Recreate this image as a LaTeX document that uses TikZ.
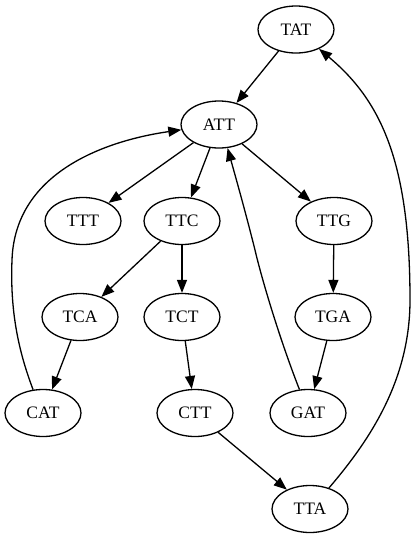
\documentclass[tikz,border=0pt]{standalone}
\usepackage{fontspec}
\setmainfont{Liberation Serif}
\usetikzlibrary{shapes.geometric,arrows.meta}
\begin{document}
\begin{tikzpicture}[x=1pt,y=-1pt,
  gnode/.style={ellipse,draw,line width=1.3pt,inner sep=0pt,minimum width=76pt,minimum height=47pt,font=\fontsize{17.5}{20}\selectfont},
  edge/.style={line width=1.3pt,-{Triangle[length=13pt,width=10pt]}}]
\useasboundingbox (0,0) rectangle (416,539);
\node[gnode] (TAT) at (296,29.5) {TAT};
\node[gnode] (ATT) at (219,124.5) {ATT};
\node[gnode] (TTT) at (83,221) {TTT};
\node[gnode] (TTC) at (182,221) {TTC};
\node[gnode] (TTG) at (334,221) {TTG};
\node[gnode] (TCA) at (80,317) {TCA};
\node[gnode] (TCT) at (182,317) {TCT};
\node[gnode] (TGA) at (333,317) {TGA};
\node[gnode] (CAT) at (43,413) {CAT};
\node[gnode] (CTT) at (195,413) {CTT};
\node[gnode] (GAT) at (308,413) {GAT};
\node[gnode] (TTA) at (310,509) {TTA};
\draw[edge] (TAT) -- (ATT);
\draw[edge] (ATT) -- (TTT);
\draw[edge] (ATT) -- (TTC);
\draw[edge] (ATT) -- (TTG);
\draw[edge] (TTC) -- (TCA);
\draw[edge] (TTC) -- (TCT);
\draw[edge] (TTG) -- (TGA);
\draw[edge] (TCA) -- (CAT);
\draw[edge] (TCT) -- (CTT);
\draw[edge] (TGA) -- (GAT);
\draw[edge] (CTT) -- (TTA);
\draw[edge] (CAT.113) .. controls (18,350) and (10,310) .. (12,260) .. controls (15,170) and (110,140) .. (ATT.188);
\draw[edge] (GAT.110) .. controls (280,340) and (262,280) .. (255,250) .. controls (245,210) and (235,175) .. (ATT.290);
\draw[edge] (TTA.48) .. controls (370,440) and (410,380) .. (410,300) .. controls (410,160) and (380,100) .. (TAT.320);
\end{tikzpicture}
\end{document}
